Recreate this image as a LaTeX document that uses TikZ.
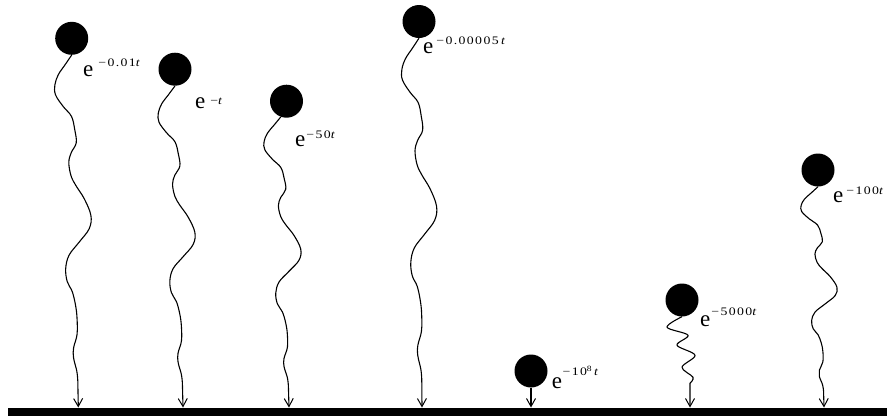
\documentclass[tikz,border=0pt]{standalone}
\usepackage{fontspec}
\setmainfont{Liberation Serif}
\newfontfamily\labelfont{Liberation Serif}
\usepackage{graphicx}
\usetikzlibrary{calc,arrows.meta}

% big base letter and stretched, spaced exponent
\newcommand\baseE{{\labelfont\fontsize{23}{23}\selectfont e}}
\newcommand\expfont[1]{\scalebox{1.2}[1]{\labelfont\fontsize{11.5}{11.5}\selectfont\addfontfeature{LetterSpace=10}#1}}
% #1 gap after e, #2 raise of exponent, #3 exponent text
\newcommand\expo[3]{\baseE\hspace{#1pt}\raisebox{#2pt}{\expfont{#3}}}

% a hanging wavy cord from #1 down to #2
\newcommand\wavystring[2]{%
  \draw[cord] plot[smooth, tension=0.6] coordinates {
    (#1)
    ($(#1)!0.028!(#2)+(-6.9,0)$)
    ($(#1)!0.056!(#2)+(-13.8,0)$)
    ($(#1)!0.085!(#2)+(-17.4,0)$)
    ($(#1)!0.113!(#2)+(-16.9,0)$)
    ($(#1)!0.146!(#2)+(-9.5,0)$)
    ($(#1)!0.174!(#2)+(-1.4,0)$)
    ($(#1)!0.211!(#2)+(1.6,0)$)
    ($(#1)!0.249!(#2)+(2.9,0)$)
    ($(#1)!0.277!(#2)+(-2.3,0)$)
    ($(#1)!0.305!(#2)+(-4.9,0)$)
    ($(#1)!0.343!(#2)+(-2.9,0)$)
    ($(#1)!0.371!(#2)+(1.9,0)$)
    ($(#1)!0.408!(#2)+(9.9,0)$)
    ($(#1)!0.455!(#2)+(16.2,0)$)
    ($(#1)!0.493!(#2)+(14.2,0)$)
    ($(#1)!0.531!(#2)+(3.9,0)$)
    ($(#1)!0.568!(#2)+(-6.4,0)$)
    ($(#1)!0.606!(#2)+(-10,0)$)
    ($(#1)!0.643!(#2)+(-8.7,0)$)
    ($(#1)!0.671!(#2)+(-3.9,0)$)
    ($(#1)!0.709!(#2)+(-0.9,0)$)
    ($(#1)!0.746!(#2)+(0.4,0)$)
    ($(#1)!0.793!(#2)+(0.1,0)$)
    ($(#1)!0.831!(#2)+(-3.6,0)$)
    ($(#1)!0.859!(#2)+(-3.8,0)$)
    ($(#1)!0.897!(#2)+(-0.8,0)$)
    ($(#1)!0.925!(#2)$)
  } -- (#2);
}

\begin{document}
\begin{tikzpicture}[x=1pt, y=-1pt,
  ball/.style={circle, fill=black, minimum size=33, inner sep=0},
  cord/.style={draw, line width=1.1pt, line join=round,
    -{Straight Barb[length=8pt, width=9pt, line width=1pt]}},
  lbl/.style={inner sep=0, anchor=base west}]
\useasboundingbox (0,0) rectangle (887,416);

% ground
\node[fill=black, inner sep=0, minimum width=879, minimum height=8.5,
  anchor=north west] (ground) at (8,407.5) {};

% balls
\node[ball] (b1) at (71.7,38.3) {};
\node[ball] (b2) at (175,69.2) {};
\node[ball] (b3) at (286.5,101.2) {};
\node[ball] (b4) at (419,21.5) {};
\node[ball] (b5) at (531,371) {};
\node[ball] (b6) at (682,300) {};
\node[ball] (b7) at (818,170) {};

% cord ends on the ground
\coordinate (g1) at (78.3,407.5);
\coordinate (g2) at (183,407.5);
\coordinate (g3) at (289,407.5);
\coordinate (g4) at (422,407.5);
\coordinate (g5) at (531,407.5);
\coordinate (g6) at (690,407.5);
\coordinate (g7) at (824,407.5);

% cords
\wavystring{b1.south}{g1}
\wavystring{b2.south}{g2}
\wavystring{b3.250}{g3}
\wavystring{b4.south}{g4}
\wavystring{b7.south}{g7}
\draw[cord] (b5.south) -- (g5);
\draw[cord] plot[smooth, tension=0.55] coordinates {
  (b6.south)
  ($(b6.south)+(-15,10.5)$)
  ($(b6.south)+(6,18.5)$)
  ($(b6.south)+(-5,28.5)$)
  ($(b6.south)+(13,38.5)$)
  ($(b6.south)+(0,50.5)$)
  ($(b6.south)+(11,60.5)$)
  ($(b6.south)+(8,66.5)$)
} -- (g6);

% decay labels
\node[lbl] (l1) at (83,76.7) {\expo{5}{10}{−0.01\textit{t}}};
\node[lbl] (l2) at (195,108.3) {\expo{5}{4}{−\textit{t}}};
\node[lbl] (l3) at (295,146) {\expo{1}{8}{−50\textit{t}}};
\node[lbl] (l4) at (423,53) {\expo{3}{9}{−0.00005\,\textit{t}}};
\node[lbl] (l5) at (551.7,388) {\expo{0.5}{13}{−10\raisebox{4pt}{\fontsize{8}{8}\selectfont 8}\,\textit{t}}};
\node[lbl] (l6) at (700,326.7) {\expo{1}{11}{−5000\textit{t}}};
\node[lbl] (l7) at (833,202.7) {\expo{3}{8}{−100\textit{t}}};
\end{tikzpicture}
\end{document}
